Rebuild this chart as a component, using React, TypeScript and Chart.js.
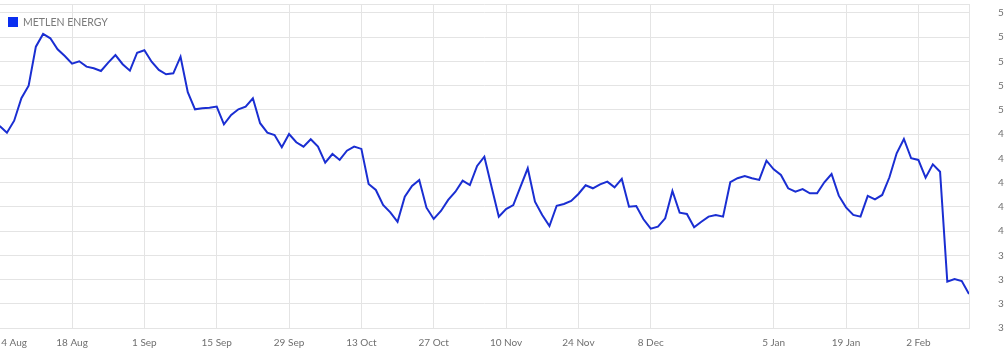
import React, { useEffect, useRef } from "react";
import { Chart, registerables } from "chart.js";

Chart.register(...registerables);

const seriesName = "METLEN ENERGY";

// daily closes (trading days)
const prices = [
  48.67, 48.12, 49.11, 50.96, 52.0, 55.22, 56.27, 55.91, 55.0, 54.45,
  53.82, 54.01, 53.57, 53.44, 53.21, 53.9, 54.53, 53.77, 53.24, 54.72,
  54.92, 53.98, 53.3, 52.94, 53.02, 54.39, 51.46, 50.05, 50.13, 50.18,
  50.27, 48.81, 49.58, 50.05, 50.27, 50.96, 48.9, 48.12, 47.93, 46.92,
  48.01, 47.33, 46.97, 47.58, 46.97, 45.64, 46.36, 45.87, 46.63, 46.97,
  46.78, 43.89, 43.39, 42.15, 41.55, 40.77, 42.84, 43.72, 44.22, 41.93,
  41.0, 41.66, 42.57, 43.25, 44.16, 43.8, 45.37, 46.14, 43.64, 41.19,
  41.82, 42.15, 43.66, 45.18, 42.43, 41.33, 40.42, 42.09, 42.24, 42.48,
  43.06, 43.78, 43.53, 43.86, 44.08, 43.61, 44.3, 42.01, 42.07, 40.97,
  40.2, 40.36, 41.05, 43.31, 41.52, 41.41, 40.31, 40.77, 41.19, 41.33,
  41.19, 44.03, 44.36, 44.55, 44.36, 44.22, 45.81, 45.1, 44.63, 43.53,
  43.25, 43.47, 43.12, 43.12, 44.03, 44.71, 42.92, 41.96, 41.33, 41.19,
  42.9, 42.62, 42.98, 44.44, 46.42, 47.6, 46.01, 45.87, 44.41, 45.51,
  44.9, 35.82, 36.04, 35.88, 34.81,
];

// x-axis ticks: trading-day index and label
const xTickIndex = [1.98, 10, 20, 30, 40, 50, 60, 70, 80, 90, 107, 117, 127];
const xTickLabels = [
  "4 Aug", "18 Aug", "1 Sep", "15 Sep", "29 Sep", "13 Oct", "27 Oct",
  "10 Nov", "24 Nov", "8 Dec", "5 Jan", "19 Jan", "2 Feb",
];

// y-axis ticks
const yTickValues = [32, 34, 36, 38, 40, 42, 44, 46, 48, 50, 52, 54, 56, 58];
const yMin = 32;
const yMax = 58.74;

const LINE_COLOR = "#1a2ed2";
const LEGEND_COLOR = "#0a2ef0";
const GRID_COLOR = "#e4e4e4";
const TICK_COLOR = "#6f6f6f";
const FONT_FAMILY = "Lato, 'Liberation Sans', Arial, sans-serif";

export default function App() {
  const canvasRef = useRef<HTMLCanvasElement>(null);

  useEffect(() => {
    if (!canvasRef.current) return;
    const chart = new Chart(canvasRef.current, {
      type: "line",
      data: {
        datasets: [
          {
            label: seriesName,
            data: prices.map((v, i) => ({ x: i, y: v })),
            borderColor: LINE_COLOR,
            backgroundColor: LINE_COLOR,
            borderWidth: 2,
            pointRadius: 0,
            pointHoverRadius: 0,
            tension: 0,
            fill: false,
          },
        ],
      },
      options: {
        animation: false,
        responsive: false,
        maintainAspectRatio: false,
        devicePixelRatio: 1,
        layout: { padding: { left: 39.7, right: 11, top: 4, bottom: 0 } },
        plugins: {
          legend: { display: false },
          tooltip: { enabled: false },
        },
        scales: {
          x: {
            type: "linear",
            min: 0,
            max: prices.length - 1,
            afterBuildTicks: (scale: any) => {
              scale.ticks = xTickIndex.map((v) => ({ value: v }));
            },
            afterFit: (scale: any) => {
              scale.height = 29;
            },
            grid: {
              color: (ctx: any) => (ctx.index === 0 ? "rgba(0,0,0,0)" : GRID_COLOR),
              drawTicks: false,
              lineWidth: 1,
            },
            border: { display: true, color: GRID_COLOR },
            ticks: {
              autoSkip: false,
              maxRotation: 0,
              minRotation: 0,
              padding: 9,
              color: TICK_COLOR,
              font: { family: FONT_FAMILY, size: 10 },
              callback: (_v: any, i: number) => xTickLabels[i],
            },
          },
          y: {
            position: "right",
            min: yMin,
            max: yMax,
            afterBuildTicks: (scale: any) => {
              scale.ticks = [...yTickValues, yMax].map((v) => ({ value: v }));
            },
            afterFit: (scale: any) => {
              scale.width = 60;
              scale.paddingTop = 0;
              scale.paddingBottom = 0;
            },
            grid: { color: GRID_COLOR, drawTicks: false, lineWidth: 1 },
            border: { display: true, color: GRID_COLOR },
            ticks: {
              padding: 29,
              color: TICK_COLOR,
              font: { family: FONT_FAMILY, size: 10 },
              callback: (v: any) => (yTickValues.includes(Number(v)) ? String(v) : ""),
            },
          },
        },
      },
    });
    return () => chart.destroy();
  }, []);

  return (
    <div
      style={{
        position: "absolute",
        left: 0,
        top: 0,
        width: 1004,
        height: 357,
        overflow: "hidden",
        background: "#ffffff",
      }}
    >
      <canvas
        ref={canvasRef}
        width={1080}
        height={357}
        style={{ position: "absolute", left: -40, top: 0, width: 1080, height: 357 }}
      />
      <div
        style={{
          position: "absolute",
          left: 8,
          top: 16,
          display: "flex",
          alignItems: "center",
          fontFamily: FONT_FAMILY,
          fontSize: 10.5,
          color: "#7a7a7a",
          lineHeight: "12px",
        }}
      >
        <span
          style={{
            display: "inline-block",
            width: 10,
            height: 10,
            background: LEGEND_COLOR,
            marginRight: 5,
          }}
        />
        <span>{seriesName}</span>
      </div>
    </div>
  );
}
